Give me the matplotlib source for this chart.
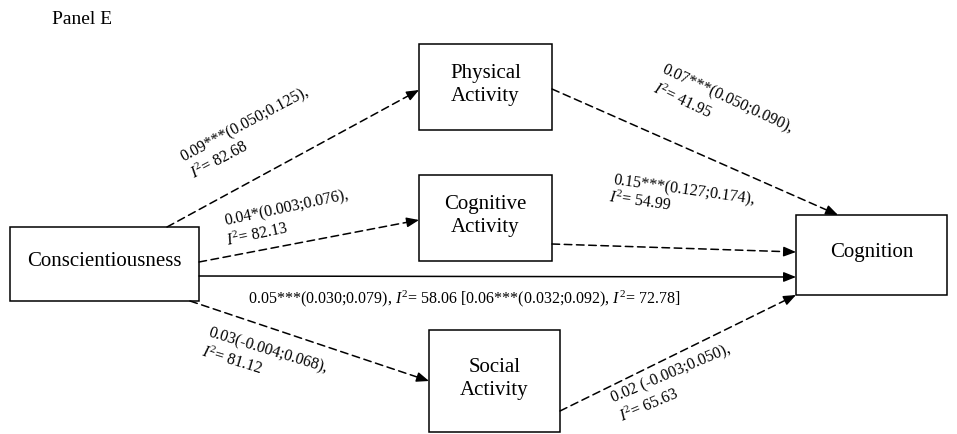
import matplotlib
matplotlib.use("Agg")
import matplotlib.pyplot as plt

plt.rcParams["font.family"] = ["Liberation Serif", "DejaVu Serif"]
plt.rcParams["mathtext.fontset"] = "custom"
plt.rcParams["mathtext.rm"] = "Liberation Serif"
plt.rcParams["mathtext.it"] = "Liberation Serif:italic"

# nodes of the path diagram
node_names = ["Conscientiousness", "Physical\nActivity", "Cognitive\nActivity",
              "Social\nActivity", "Cognition"]
# box geometry in pixel space: left, top, right, bottom
node_boxes = [(10, 228, 199, 302), (419, 45, 552, 131), (419, 176, 552, 262),
              (429, 331, 560, 433), (796, 216, 947, 296)]

# path estimates (coef, CI, I2)
coef_a = ["0.09***(0.050;0.125),", "0.04*(0.003;0.076),", "0.03(-0.004;0.068),"]
i2_a = ["82.68", "82.13", "81.12"]
coef_b = ["0.07***(0.050;0.090),", "0.15***(0.127;0.174),", "0.02 (-0.003;0.050),"]
i2_b = ["41.95", "54.99", "65.63"]
direct_total = "0.05***(0.030;0.079)"
direct_i2 = "58.06"
direct_alt = "0.06***(0.032;0.092)"
direct_alt_i2 = "72.78"

fig = plt.figure(figsize=(9.57, 4.35), dpi=100)
ax = fig.add_axes([0, 0, 1, 1])
ax.set_xlim(0, 957)
ax.set_ylim(435, 0)
ax.axis("off")

for name, (l, t, r, b) in zip(node_names, node_boxes):
    ax.add_patch(plt.Rectangle((l, t), r - l, b - t, fill=False, ec="black", lw=1.1))
    ax.text((l + r) / 2, (t + b) / 2 - 3, name, ha="center", va="center",
            fontsize=15, linespacing=1.35)


def arrow(p0, p1, dashed=True):
    ls = (0, (5, 3)) if dashed else "-"
    ax.annotate("", xy=p1, xytext=p0,
                arrowprops=dict(arrowstyle="-", lw=1.1, linestyle=ls, color="black",
                                shrinkA=0, shrinkB=6))
    dx, dy = p1[0] - p0[0], p1[1] - p0[1]
    n = (dx ** 2 + dy ** 2) ** 0.5
    ax.annotate("", xy=p1, xytext=(p1[0] - 10 * dx / n, p1[1] - 10 * dy / n),
                arrowprops=dict(arrowstyle="-|>,head_length=0.75,head_width=0.3",
                                mutation_scale=10, lw=1, color="black",
                                shrinkA=0, shrinkB=0))


# Conscientiousness -> mediators
arrow((167, 228), (419, 91))
arrow((199, 263), (419, 221))
arrow((190, 302), (429, 382))
# mediators -> Cognition
arrow((552, 90), (838, 216))
arrow((552, 245), (796, 253))
arrow((560, 412), (796, 296))
# direct path
arrow((199, 277), (796, 278), dashed=False)

fs = 11.5


def lab(x, y, s, rot):
    ax.text(x, y, s, ha="left", va="baseline", rotation=rot,
            rotation_mode="anchor", fontsize=fs)


# a paths
lab(184, 162, coef_a[0], 28)
lab(194, 179, "$I^2$= " + i2_a[0], 28)
lab(226, 225, coef_a[1], 12)
lab(228, 246, "$I^2$= " + i2_a[1], 12)
lab(207, 337, coef_a[2], -17)
lab(201, 356, "$I^2$= " + i2_a[2], -17)

# b paths
lab(661, 73, coef_b[0], -25)
lab(652, 92, "$I^2$= " + i2_b[0], -25)
lab(613, 184, coef_b[1], -8)
lab(608, 202, "$I^2$= " + i2_b[1], -8)
lab(614, 403, coef_b[2], 23)
lab(622, 422, "$I^2$= " + i2_b[2], 23)

ax.text(248, 303, f"{direct_total}, $I^2$= {direct_i2} [{direct_alt}, $I^2$= {direct_alt_i2}]",
        ha="left", va="baseline", fontsize=fs)

ax.text(52, 24, "Panel E", ha="left", va="baseline", fontsize=14)

fig.savefig("out.png", dpi=100, facecolor="white")
